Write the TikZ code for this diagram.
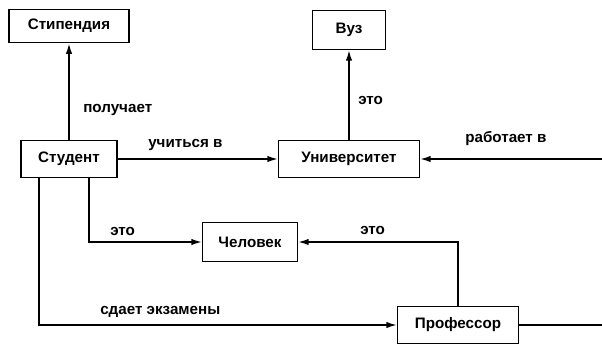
\documentclass[tikz,border=0pt]{standalone}
\usepackage{fontspec}
\setmainfont{Liberation Sans}
\usetikzlibrary{arrows.meta}
\begin{document}
\begin{tikzpicture}[x=0.025cm, y=-0.025cm,
    box/.style={draw, line width=1.1pt, minimum height=0.92cm, font=\fontsize{10.8}{13}\selectfont\bfseries},
    lbl/.style={anchor=west, inner sep=0pt, font=\fontsize{10.8}{13}\selectfont\bfseries},
    arr/.style={line width=1.1pt, -{Latex[length=2.6mm, width=1.6mm]}}]
    \useasboundingbox (0,0) rectangle (602,343);
    \clip (0,0) rectangle (602,343);

    % Begriffe
    \node[box, minimum width=3cm, minimum height=0.83cm] (stip) at (69, 26) {Стипендия};
    \node[box, minimum width=2.4cm] (stud) at (69, 159) {Студент};
    \node[box, minimum width=3.52cm] (univ) at (349, 159) {Университет};
    \node[box, minimum width=1.83cm, minimum height=0.97cm] (vuz) at (349, 30) {Вуз};
    \node[box, minimum width=2.37cm, minimum height=0.97cm] (chel) at (250, 242) {Человек};
    \node[box, minimum width=3.02cm] (prof) at (458, 325) {Профессор};

    % Rand
    \coordinate (rin) at (602, 159);
    \coordinate (rout) at (602, 325);

    % Pfeile
    \draw[arr] (stud.north) -- (stip.south);
    \draw[arr] (stud.east) -- (univ.west);
    \draw[arr] (univ.north) -- (vuz.south);
    \draw[arr] (rin) -- (univ.east);
    \draw[arr] ([xshift=0.5cm]stud.south) |- (chel.west);
    \draw[arr] ([xshift=-0.75cm]stud.south) |- (prof.west);
    \draw[arr] (prof.north) |- (chel.east);
    \draw[line width=1.1pt] (prof.east) -- (rout);

    % Beschriftungen
    \node[lbl] (l1) at (83, 110) {получает};
    \node[lbl] (l2) at (148, 145) {учиться в};
    \node[lbl] (l3) at (358, 100) {это};
    \node[lbl] (l4) at (465, 139) {работает в};
    \node[lbl] (l5) at (110, 231) {это};
    \node[lbl] (l6) at (360, 230) {это};
    \node[lbl] (l7) at (100, 312) {сдает экзамены};
\end{tikzpicture}
\end{document}
